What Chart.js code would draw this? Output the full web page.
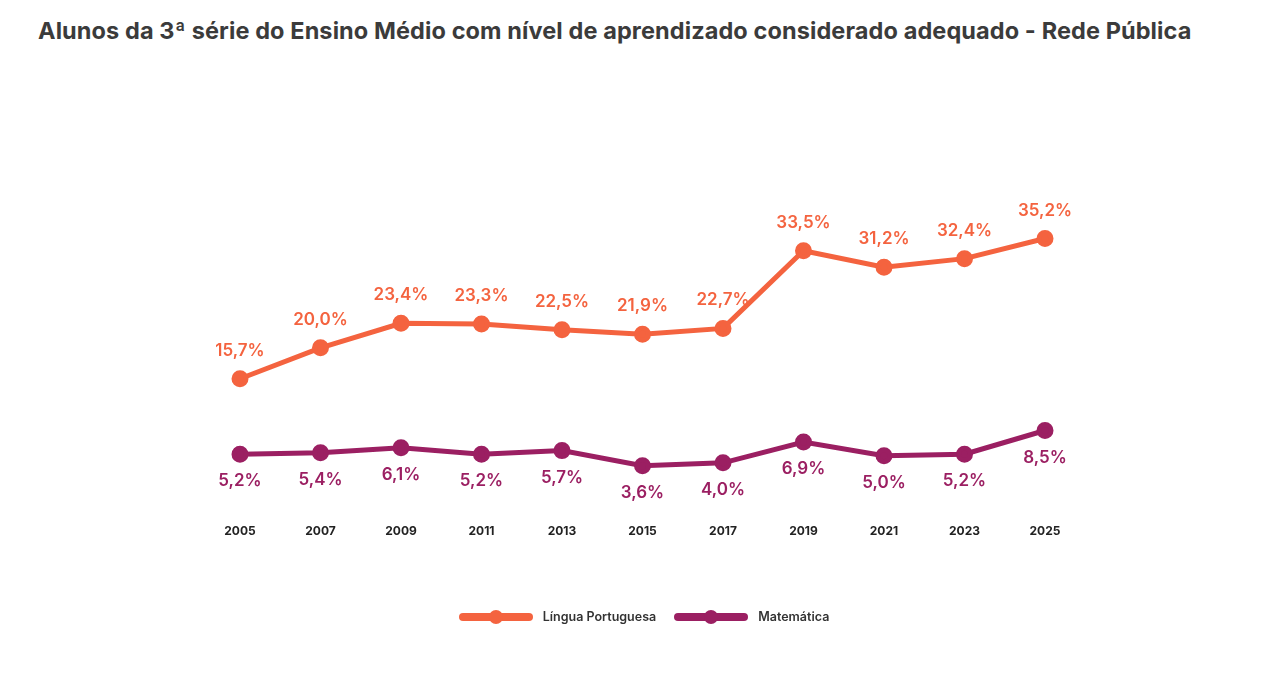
<!DOCTYPE html>
<html><head><meta charset="utf-8">
<script src="https://cdn.jsdelivr.net/npm/chart.js@4"></script>
<style>
body{margin:0;width:1268px;height:673px;background:#fff;font-family:Inter,"Open Sans",sans-serif;overflow:hidden;position:relative}
#t{position:absolute;left:38px;top:16px;font-size:23.5px;font-weight:700;color:#3b3b3b;letter-spacing:0.1px}
#c{position:absolute;left:0;top:0}
#lg{position:absolute;top:609px;left:0;width:1268px;display:flex;justify-content:center;gap:18px;font-size:12.5px;font-weight:600;color:#333;padding-left:20px;box-sizing:border-box}
.it{display:flex;align-items:center;gap:10px}
.sw{position:relative;width:74px;height:8px;border-radius:4px}
.sw i{position:absolute;left:30px;top:-3px;width:14px;height:14px;border-radius:50%;background:inherit}
</style></head><body>
<div id="t">Alunos da 3ª série do Ensino Médio com nível de aprendizado considerado adequado - Rede Pública</div>
<canvas id="c" width="1268" height="673"></canvas>
<div id="lg">
<div class="it"><span class="sw" style="background:#F4633F"><i></i></span>Língua Portuguesa</div>
<div class="it"><span class="sw" style="background:#9B1F62"><i></i></span>Matemática</div>
</div>
<script>
const categories=["2005","2007","2009","2011","2013","2015","2017","2019","2021","2023","2025"];
const portugues=[15.7,20.0,23.4,23.3,22.5,21.9,22.7,33.5,31.2,32.4,35.2];
const matematica=[5.2,5.4,6.1,5.2,5.7,3.6,4.0,6.9,5.0,5.2,8.5];
const colors=["#F4633F","#9B1F62"];
const labelPlugin={id:'lbl',afterDatasetsDraw(ch){
 const ctx=ch.ctx;ctx.save();ctx.font='600 17px Inter, "Open Sans", sans-serif';ctx.textAlign='center';ctx.textBaseline='middle';
 ch.data.datasets.forEach((ds,i)=>{const m=ch.getDatasetMeta(i);ctx.fillStyle=colors[i];
  m.data.forEach((p,j)=>{const txt=ds.data[j].toFixed(1).replace('.',',')+'%';ctx.fillText(txt,p.x,p.y+(i===0?-28:27));});});
 ctx.restore();}};
new Chart(document.getElementById('c'),{type:'line',
 data:{labels:categories,datasets:[
  {data:portugues,borderColor:colors[0],backgroundColor:colors[0],borderWidth:5,pointRadius:6,pointHoverRadius:6,tension:0},
  {data:matematica,borderColor:colors[1],backgroundColor:colors[1],borderWidth:5,pointRadius:6,pointHoverRadius:6,tension:0}]},
 options:{responsive:false,animation:false,layout:{padding:{left:240,right:223,top:204,bottom:109}},
  plugins:{legend:{display:false},tooltip:{enabled:false}},
  scales:{y:{display:false,min:0,max:40},
   x:{offset:false,grid:{display:false},border:{display:false},ticks:{padding:25,color:'#222',font:{size:12,weight:'700',family:'Inter, "Open Sans", sans-serif'}}}}},
 plugins:[labelPlugin]});
</script></body></html>
